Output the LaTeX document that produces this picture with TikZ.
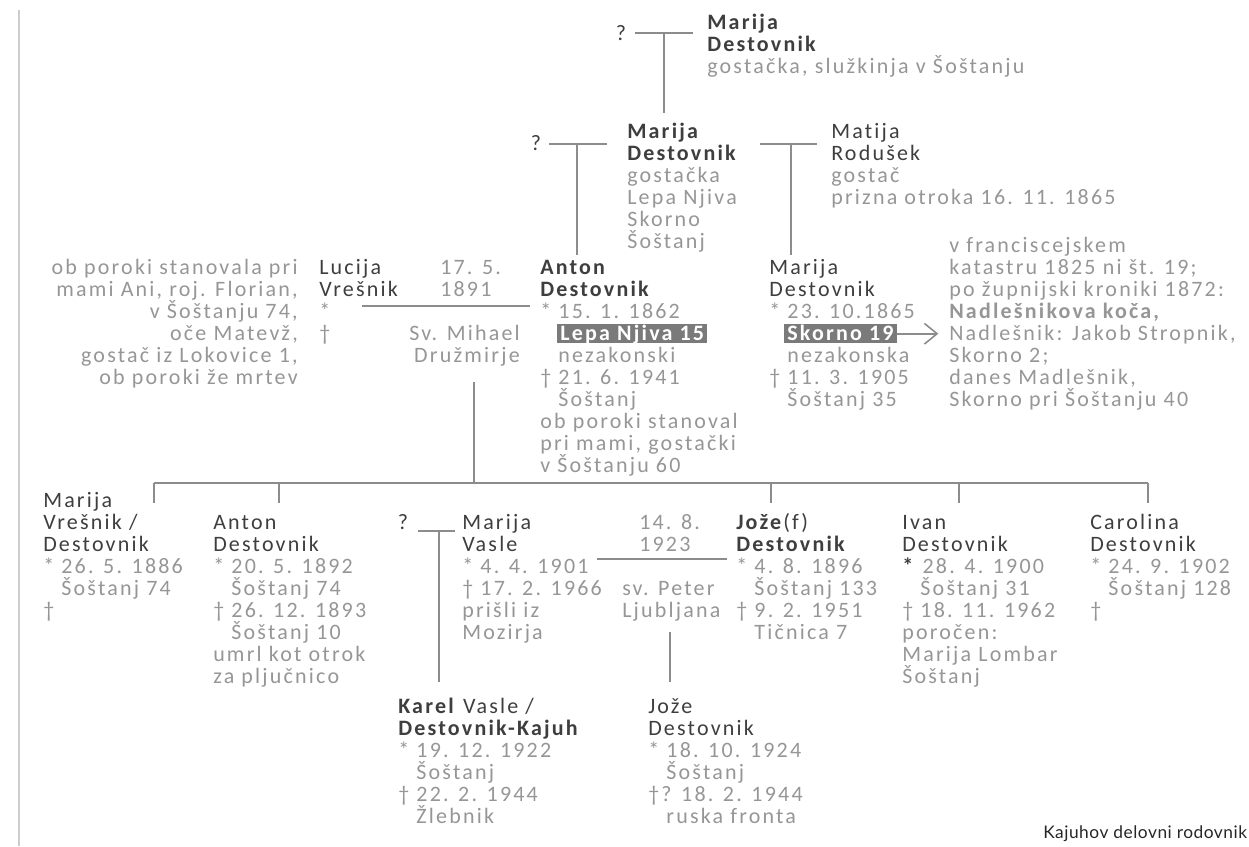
\documentclass[tikz,border=0pt]{standalone}
\usepackage{fontspec}
\usepackage{xcolor}
\setmainfont{Carlito}[LetterSpace=10,Ligatures=NoCommon]
\newfontfamily\capfont{Lato}[LetterSpace=3]
\usetikzlibrary{arrows.meta}

\definecolor{namec}{RGB}{62,62,62}
\definecolor{infoc}{RGB}{150,150,150}
\definecolor{linec}{RGB}{140,140,140}
\definecolor{boxc}{RGB}{122,122,122}
\definecolor{edgec}{RGB}{205,205,205}

\newcommand{\treefont}{\fontsize{16.5}{16.5}\selectfont\lineskiplimit=-30pt\relax}
\newcommand{\nm}[1]{\textcolor{namec}{#1}}
\newcommand{\nb}[1]{\textcolor{namec}{\textbf{#1}}}
\newcommand{\ind}{\phantom{*\ }}

\begin{document}
\begin{tikzpicture}[x=0.75pt,y=0.75pt,yscale=-1,xscale=1,
  person/.style={anchor=base west, inner sep=0pt, align=left, text=infoc, font=\treefont},
  personR/.style={person, anchor=base east, align=right},
  ask/.style={inner sep=0pt, text=namec, font=\treefont},
  hlbox/.style={anchor=base west, fill=boxc, text=white, font=\treefont\bfseries, inner xsep=2.3pt, inner ysep=0pt, text height=12pt, text depth=2.6pt},
  famline/.style={draw=linec, line width=1.5pt},
  arr/.style={draw=linec, line width=1.2pt, -{Straight Barb[length=9.5pt,width=15.5pt]}, shorten >=8pt}]
\useasboundingbox (0,0) rectangle (1249,846);
% multi-line nodes sit on the baseline of their last line (22 px apart)

%Straight Lines: page edge
\draw [draw=edgec, line width=1.5pt] (19,10) -- (19,846) ;

% Text Node
\node (q1) [ask] at (621,33) {?};
% Text Node
\node (marijaTop) [person] at (707,73) {\nb{Marija}\\ \nb{Destovnik}\\ gostačka, služkinja v Šoštanju};

% Text Node
\node (q2) [ask] at (536,143) {?};
% Text Node
\node (marijaMid) [person] at (627,248) {\nb{Marija}\\ \nb{Destovnik}\\ gostačka\\ Lepa Njiva\\ Skorno\\ Šoštanj};
% Text Node
\node (matija) [person] at (831,204) {\nm{Matija}\\ \nm{Rodušek}\\ gostač\\ prizna otroka 16. 11. 1865};

% Text Node
\node (lucijaNote) [personR] at (298,384) {ob poroki stanovala pri\\ mami Ani, roj. Florian,\\ v Šoštanju 74,\\ oče Matevž,\\ gostač iz Lokovice 1,\\ ob poroki že mrtev};
% Text Node
\node (lucija) [person] at (319,340) {\nm{Lucija}\\ \nm{Vrešnik}\\ *\\ †};
% Text Node
\node (wed1) [person] at (440,296) {17. 5.\\ 1891};
% Text Node
\node (church1) [personR] at (520,362) {Sv. Mihael\\ Družmirje};
% Text Node
\node (anton) [person] at (540,472) {\nb{Anton}\\ \nb{Destovnik}\\ * 15. 1. 1862\\ \mbox{}\\ \ind nezakonski\\ † 21. 6. 1941\\ \ind Šoštanj\\ ob poroki stanoval\\ pri mami, gostački\\ v Šoštanju 60};
\node (lepaNjiva) [hlbox] at (557,340) {Lepa Njiva 15};
% Text Node
\node (marijaR) [person] at (769,406) {\nm{Marija}\\ \nm{Destovnik}\\ * 23. 10.1865\\ \mbox{}\\ \ind nezakonska\\ † 11. 3. 1905\\ \ind Šoštanj 35};
\node (skorno) [hlbox] at (784,340) {Skorno 19};
% Text Node
\node (skornoNote) [person] at (949,406) {v franciscejskem\\ katastru 1825 ni št. 19;\\ po župnijski kroniki 1872:\\ \textbf{Nadlešnikova koča,}\\ Nadlešnik: Jakob Stropnik,\\ Skorno 2;\\ danes Madlešnik,\\ Skorno pri Šoštanju 40};

% Text Node
\node (kid1) [person] at (43,617) {\nm{Marija}\\ \nm{Vrešnik /}\\ \nm{Destovnik}\\ * 26. 5. 1886\\ \ind Šoštanj 74\\ †};
% Text Node
\node (kid2) [person] at (213,683) {\nm{Anton}\\ \nm{Destovnik}\\ * 20. 5. 1892\\ \ind Šoštanj 74\\ † 26. 12. 1893\\ \ind Šoštanj 10\\ umrl kot otrok\\ za pljučnico};
% Text Node
\node (q3) [ask, anchor=base] at (403,529) {?};
% Text Node
\node (vasle) [person] at (462,639) {\nm{Marija}\\ \nm{Vasle}\\ * 4. 4. 1901\\ † 17. 2. 1966\\ prišli iz\\ Mozirja};
% Text Node
\node (wed2) [person] at (639,551) {14. 8.\\ 1923};
% Text Node
\node (church2) [person] at (622,617) {sv. Peter\\ Ljubljana};
% Text Node
\node (kid3) [person] at (736,639) {\nb{Jože}\nm{(f)}\\ \nb{Destovnik}\\ * 4. 8. 1896\\ \ind Šoštanj 133\\ † 9. 2. 1951\\ \ind Tičnica 7};
% Text Node
\node (kid4) [person] at (902,683) {\nm{Ivan}\\ \nm{Destovnik}\\ \nb{*} 28. 4. 1900\\ \ind Šoštanj 31\\ † 18. 11. 1962\\ poročen:\\ Marija Lombar\\ Šoštanj};
% Text Node
\node (kid5) [person] at (1090,617) {\nm{Carolina}\\ \nm{Destovnik}\\ * 24. 9. 1902\\ \ind Šoštanj 128\\ †};

% Text Node
\node (karel) [person] at (398,823) {\nb{Karel} \nm{Vasle /}\\ \nb{Destovnik-Kajuh}\\ * 19. 12. 1922\\ \ind Šoštanj\\ † 22. 2. 1944\\ \ind Žlebnik};
% Text Node
\node (joze) [person] at (648,823) {\nm{Jože}\\ \nm{Destovnik}\\ * 18. 10. 1924\\ \ind Šoštanj\\ †? 18. 2. 1944\\ \ind ruska fronta};

% Text Node
\node (caption) [anchor=base west, inner sep=0pt, text=black!85, font=\capfont\fontsize{13}{13}\selectfont] at (1043,838) {Kajuhov delovni rodovnik};

%Straight Lines: top couple
\coordinate (c1l) at (635,33); \coordinate (c1r) at (693,33); \coordinate (c1d) at (664,113);
\draw [famline] (c1l) -- (c1r) ;
\draw [famline] (c1l -| c1d) -- (c1d) ;
%Straight Lines: Marija and ?
\coordinate (c2l) at (549,144); \coordinate (c2r) at (607,144); \coordinate (c2d) at (577,255);
\draw [famline] (c2l) -- (c2r) ;
\draw [famline] (c2l -| c2d) -- (c2d) ;
%Straight Lines: Marija and Matija
\coordinate (c3l) at (760,144); \coordinate (c3r) at (817,144); \coordinate (c3d) at (791,255);
\draw [famline] (c3l) -- (c3r) ;
\draw [famline] (c3l -| c3d) -- (c3d) ;
%Straight Lines: Lucija and Anton
\coordinate (c4l) at (362,306); \coordinate (c4r) at (530,306);
\coordinate (c4u) at (474,382); \coordinate (c4d) at (474,483);
\draw [famline] (c4l) -- (c4r) ;
\draw [famline] (c4u) -- (c4d) ;
%Straight Lines: children bar
\coordinate (barl) at (154,483); \coordinate (barr) at (1148,483);
\draw [famline] (barl) -- (barr) ;
\foreach \k in {154,279,771,959,1148} {
  \draw [famline] (\k,483) -- (\k,503) ;
}
%Straight Lines: ? and Marija Vasle
\coordinate (c5l) at (418,531); \coordinate (c5r) at (455,531); \coordinate (c5d) at (439,682);
\draw [famline] (c5l) -- (c5r) ;
\draw [famline] (c5l -| c5d) -- (c5d) ;
%Straight Lines: Marija Vasle and Jože
\coordinate (c6l) at (597,559); \coordinate (c6r) at (727,559);
\coordinate (c6u) at (670,632); \coordinate (c6d) at (670,682);
\draw [famline] (c6l) -- (c6r) ;
\draw [famline] (c6u) -- (c6d) ;
%Straight Lines: arrow to note
\draw [arr] (skorno.east) -- (skorno.east -| skornoNote.west) ;

\end{tikzpicture}
\end{document}
